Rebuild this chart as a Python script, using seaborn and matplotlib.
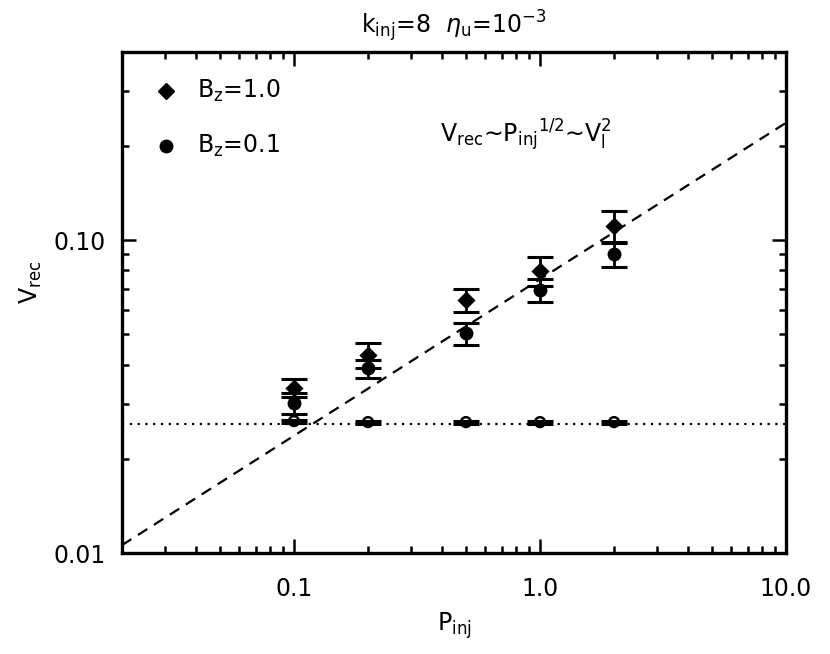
import matplotlib
matplotlib.use("Agg")
import matplotlib.pyplot as plt
import matplotlib.ticker as mticker
import pandas as pd
import seaborn as sns

# injected power and reconnection speed
p_inj = [0.1, 0.2, 0.5, 1.0, 2.0]
v_bz1 = [0.0337, 0.0429, 0.0643, 0.0796, 0.111]
err_bz1 = [0.0022, 0.0039, 0.0055, 0.0084, 0.0125]
v_bz01 = [0.0302, 0.0389, 0.0503, 0.0692, 0.0900]
err_bz01 = [0.0023, 0.0026, 0.0040, 0.0058, 0.0079]
v_open = [0.0264, 0.0262, 0.0262, 0.0262, 0.0262]
err_open = [0.0003, 0.0003, 0.0003, 0.0003, 0.0003]

# reference lines
v_floor = 0.0258
slope_p = [0.02, 10.0]
slope_v = [0.0106, 0.237]

sns.set_style("ticks")
plt.rcParams["font.family"] = ["DejaVu Sans"]
plt.rcParams["mathtext.fontset"] = "dejavusans"
for key in ["text.color", "axes.labelcolor", "xtick.color", "ytick.color"]:
    plt.rcParams[key] = "black"

FS = 17

df = pd.DataFrame({
    "P": p_inj * 3,
    "V": v_bz1 + v_bz01 + v_open,
    "err": err_bz1 + err_bz01 + err_open,
    "run": ["bz1"] * 5 + ["bz01"] * 5 + ["open"] * 5,
})

fig = plt.figure(figsize=(8.3, 6.54), dpi=100)
ax = fig.add_axes([0.147, 0.1544, 0.8, 0.7666])
ax.set_xscale("log")
ax.set_yscale("log")

ax.plot(slope_p, slope_v, color="black", lw=1.6, ls=(0, (5, 3.5)))
ax.axhline(v_floor, color="black", lw=1.6, ls=(0, (1, 2.5)))

for run in ["bz1", "bz01", "open"]:
    sub = df[df["run"] == run]
    ax.errorbar(sub["P"], sub["V"], yerr=sub["err"], fmt="none", ecolor="black",
                elinewidth=2, capsize=9.5, capthick=2.2, zorder=3)

sns.scatterplot(data=df[df["run"] == "bz1"], x="P", y="V", marker="D", s=85,
                color="black", edgecolor="black", linewidth=0, ax=ax, zorder=4)
sns.scatterplot(data=df[df["run"] == "bz01"], x="P", y="V", marker="o", s=100,
                color="black", edgecolor="black", linewidth=0, ax=ax, zorder=4)
sns.scatterplot(data=df[df["run"] == "open"], x="P", y="V", marker="o", s=50,
                color="none", edgecolor="black", linewidth=1.8, ax=ax, zorder=5)

ax.set_xlim(0.02, 10.0)
ax.set_ylim(0.01, 0.4)

ax.set_xticks([0.1, 1.0, 10.0])
ax.set_xticklabels(["0.1", "1.0", "10.0"])
ax.set_yticks([0.01, 0.1])
ax.set_yticklabels(["0.01", "0.10"])
ax.xaxis.set_minor_locator(mticker.LogLocator(base=10, subs=range(2, 10)))
ax.yaxis.set_minor_locator(mticker.LogLocator(base=10, subs=range(2, 10)))
ax.xaxis.set_minor_formatter(mticker.NullFormatter())
ax.yaxis.set_minor_formatter(mticker.NullFormatter())

ax.tick_params(which="both", direction="in", top=True, right=True, width=1.8,
               color="black", labelsize=FS)
ax.tick_params(which="major", length=10)
ax.tick_params(which="minor", length=5)
ax.tick_params(axis="x", pad=17)
ax.tick_params(axis="y", pad=12)
for sp in ax.spines.values():
    sp.set_linewidth(2.4)
    sp.set_color("black")

ax.set_xlabel(r"P$_{\rm inj}$", fontsize=FS, labelpad=7)
ax.set_ylabel(r"V$_{\rm rec}$", fontsize=FS)
ax.yaxis.set_label_coords(-0.118, 0.54)
ax.set_title(r"k$_{\rm inj}$=8  $\eta_{\rm u}$=10$^{-3}$", fontsize=FS, pad=13)

# hand-made key in the upper left
ax.plot([0.066], [0.9216], marker="D", ms=8, color="black", ls="none",
        transform=ax.transAxes)
ax.plot([0.066], [0.812], marker="o", ms=9, color="black", ls="none",
        transform=ax.transAxes)
ax.text(0.113, 0.9216, r"B$_{\rm z}$=1.0", fontsize=FS, va="center",
        transform=ax.transAxes)
ax.text(0.113, 0.812, r"B$_{\rm z}$=0.1", fontsize=FS, va="center",
        transform=ax.transAxes)
ax.text(0.479, 0.834, r"V$_{\rm rec}$∼P$_{\rm inj}$$^{1/2}$∼V$_{\rm l}^{2}$",
        fontsize=FS, va="center", transform=ax.transAxes)

fig.savefig("out.png", dpi=100)
